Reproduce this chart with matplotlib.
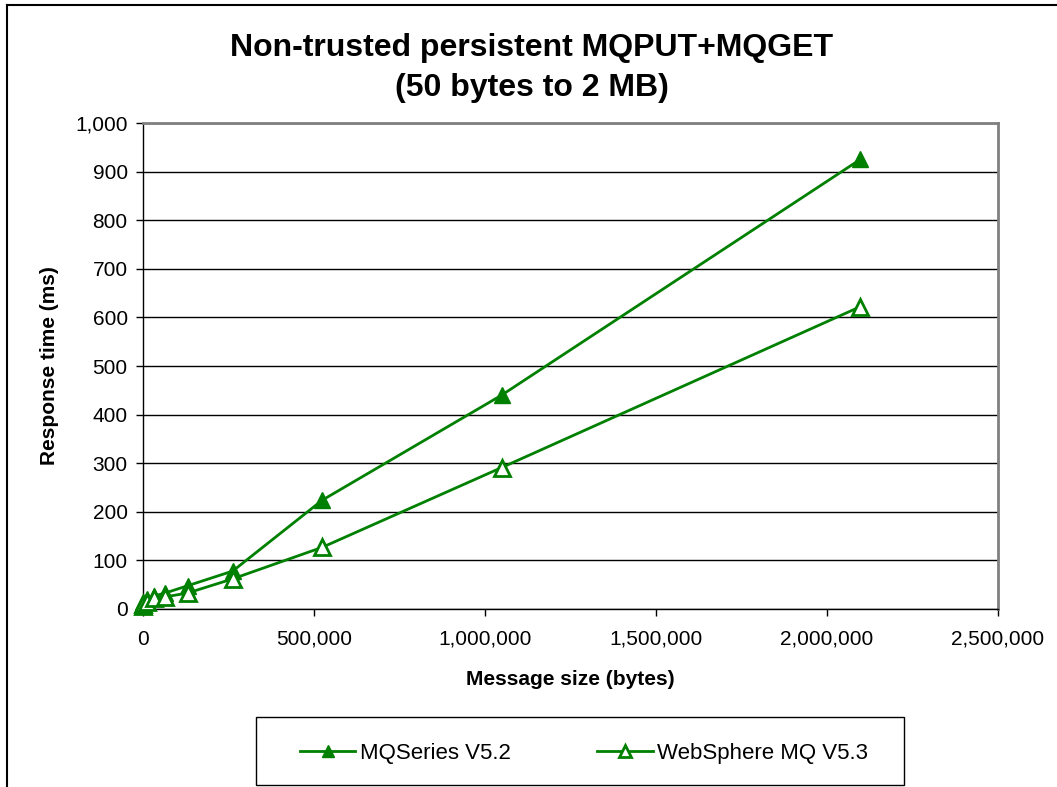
import matplotlib
matplotlib.use("Agg")
import matplotlib.pyplot as plt
from matplotlib.lines import Line2D
from matplotlib.patches import Rectangle
from matplotlib.ticker import FuncFormatter, MultipleLocator

plt.rcParams["font.family"] = ["Liberation Sans", "DejaVu Sans"]

# message sizes (bytes) and response times (ms)
sizes = [50, 1024, 10240, 32768, 65536, 131072, 262144, 524288, 1048576, 2097152]
mqseries_52 = [10, 14, 20, 27, 33, 48, 78, 224, 440, 925]
websphere_53 = [7, 10, 15, 22, 25, 33, 62, 127, 291, 622]

GREEN = "#008000"
W, H = 1057, 787

fig = plt.figure(figsize=(W / 100, H / 100), dpi=100)
ax = fig.add_axes([143 / W, 1 - 609 / H, (998 - 143) / W, (609 - 123) / H])

ax.plot(sizes, mqseries_52, color=GREEN, lw=2, marker="^", ms=11,
        mfc=GREEN, mec=GREEN, label="MQSeries V5.2", clip_on=False, zorder=3)
ax.plot(sizes, websphere_53, color=GREEN, lw=2, marker="^", ms=11,
        mfc="white", mec=GREEN, mew=2, label="WebSphere MQ V5.3", clip_on=False, zorder=3)

ax.set_xlim(0, 2500000)
ax.set_ylim(0, 1000)
ax.xaxis.set_major_locator(MultipleLocator(500000))
ax.yaxis.set_major_locator(MultipleLocator(100))
fmt = FuncFormatter(lambda v, _: f"{v:,.0f}")
ax.xaxis.set_major_formatter(fmt)
ax.yaxis.set_major_formatter(fmt)
ax.tick_params(axis="both", labelsize=15, length=5, width=1, direction="out")
ax.tick_params(axis="x", pad=10)
ax.tick_params(axis="y", pad=6)
ax.yaxis.grid(True, color="black", lw=1)
ax.set_axisbelow(True)

for s in ["top", "right"]:
    ax.spines[s].set_color("#808080")
    ax.spines[s].set_linewidth(2)
for s in ["left", "bottom"]:
    ax.spines[s].set_color("black")
    ax.spines[s].set_linewidth(1)

ax.set_xlabel("Message size (bytes)", fontsize=15, fontweight="bold", labelpad=15)
ax.set_ylabel("Response time (ms)", fontsize=15, fontweight="bold", labelpad=12)

fig.text(0.503, 1 - 68 / H, "Non-trusted persistent MQPUT+MQGET\n(50 bytes to 2 MB)",
         ha="center", va="center", fontsize=23, fontweight="bold", linespacing=1.45)

# legend box
fig.add_artist(Rectangle((256 / W, 1 - 785 / H), (904 - 256) / W, (785 - 717) / H,
                         transform=fig.transFigure, fill=False, ec="black", lw=1))
fig.legend(loc="center", bbox_to_anchor=(584 / W, 1 - 753 / H), ncol=2, fontsize=16,
           handlelength=2.5, handletextpad=0.2, columnspacing=3.9, markerscale=0.85,
           frameon=False)

# outer chart border (left and top edges visible)
fig.add_artist(Line2D([7 / W, 7 / W], [0, 1 - 5 / H], transform=fig.transFigure, color="black", lw=1.5))
fig.add_artist(Line2D([7 / W, 1], [1 - 5 / H, 1 - 5 / H], transform=fig.transFigure, color="black", lw=1.5))

fig.savefig("out.png", dpi=100)
